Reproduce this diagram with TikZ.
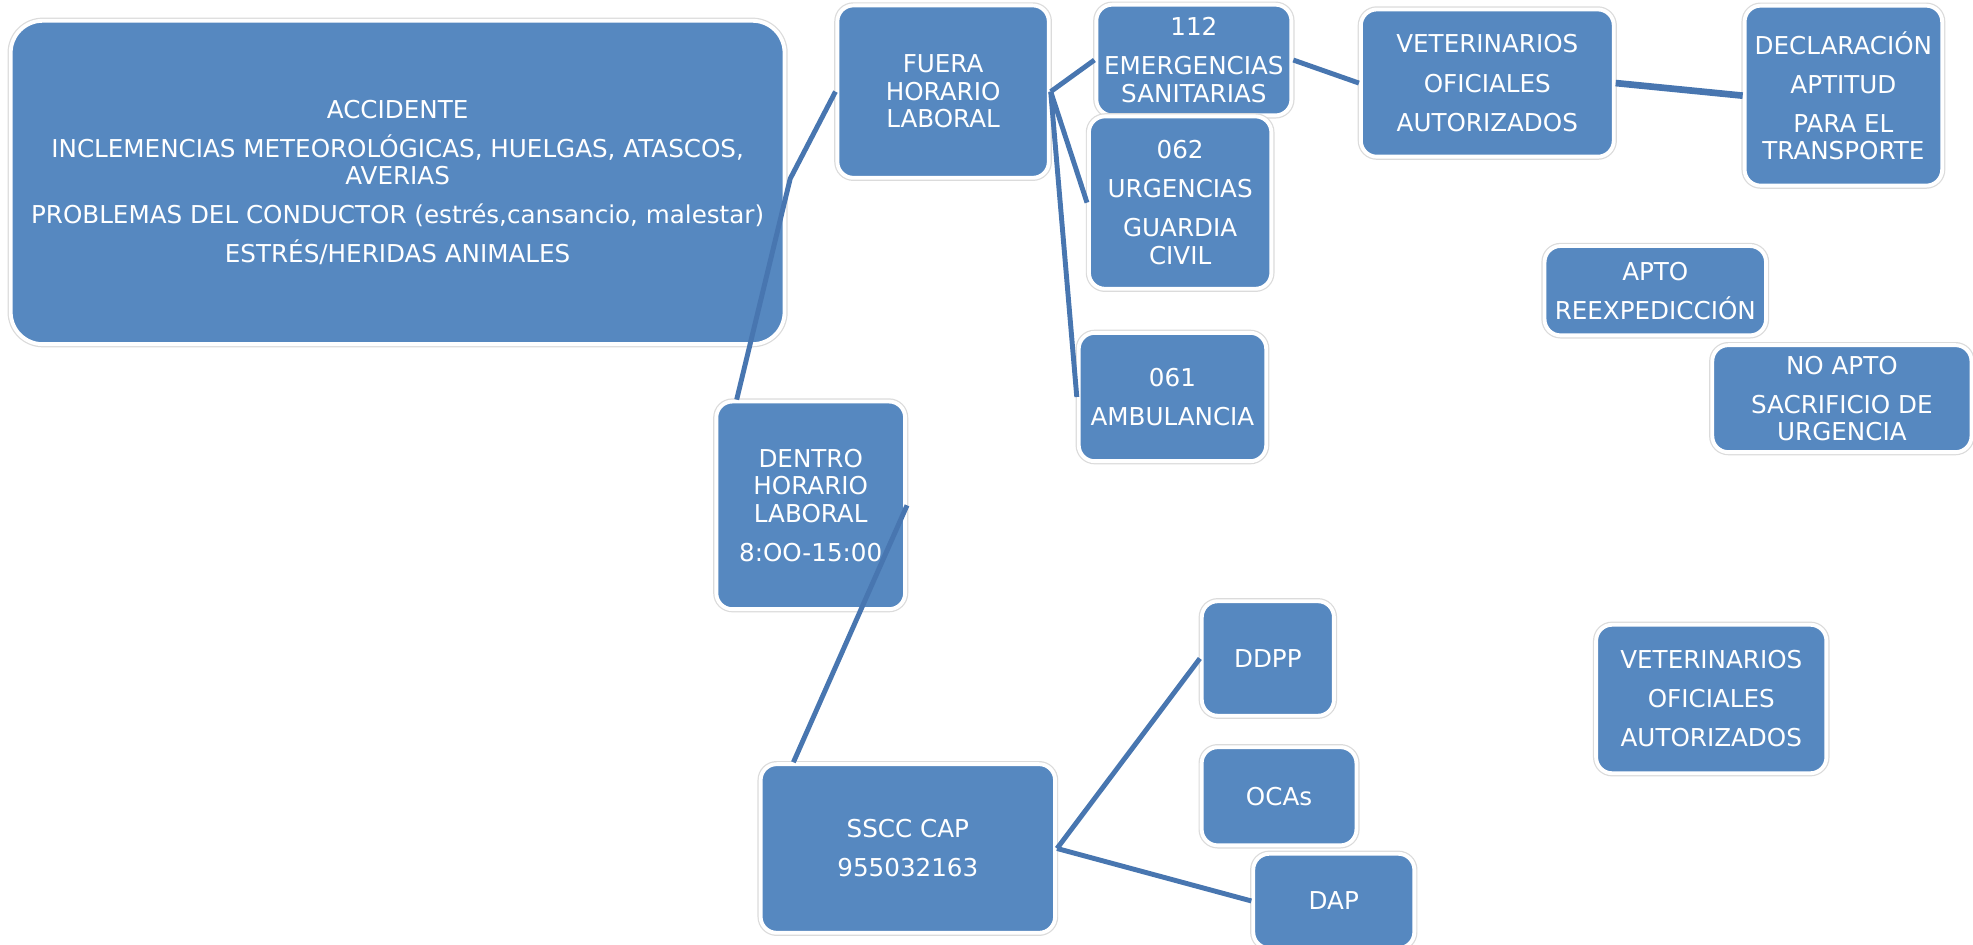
\documentclass[tikz,border=0pt]{standalone}
\usepackage{fontspec}
\setmainfont{DejaVu Sans}
\usepackage{tikz}
\newcommand{\pxu}{0.1258mm}
\definecolor{boxblue}{RGB}{86,136,192}
\definecolor{linkblue}{RGB}{72,118,176}
\tikzset{box/.style={rectangle, rounded corners=1.6mm, fill=boxblue, draw=white,
                     line width=1.1pt, text=white, align=center, inner sep=0pt,
                     font=\fontsize{7}{7.8}\selectfont,
                     preaction={draw=black!14, line width=1.8pt}},
         boxsize/.style 2 args={minimum width=#1*\pxu, minimum height=#2*\pxu},
         link/.style={draw=linkblue, line width=1.4pt}}

\begin{document}
\begin{tikzpicture}[x=0.1258mm, y=-0.1258mm]
            \useasboundingbox (0,0) rectangle (1568,751);
            \node[box, boxsize={615}{257}, rounded corners=3.2mm] (acc) at (316,145)
                {ACCIDENTE\\[3.3pt]
                 INCLEMENCIAS METEOROLÓGICAS, HUELGAS, ATASCOS,\\ AVERIAS\\[3.3pt]
                 PROBLEMAS DEL CONDUCTOR (estrés,cansancio, malestar)\\[3.3pt]
                 ESTRÉS/HERIDAS ANIMALES};
            \node[box, boxsize={168}{137}] (fuera) at (749.5,72.8) {FUERA\\ HORARIO\\ LABORAL};
            \node[box, boxsize={155}{88}] (e112) at (948.8,47.7) {112\\[3.3pt] EMERGENCIAS\\ SANITARIAS};
            \node[box, boxsize={145}{137}] (e062) at (937.9,161) {062\\[3.3pt] URGENCIAS\\[3.3pt] GUARDIA\\ CIVIL};
            \node[box, boxsize={149}{102}] (e061) at (931.8,315.5) {061\\[3.3pt] AMBULANCIA};
            \node[box, boxsize={201}{117}] (vetA) at (1182,66) {VETERINARIOS\\[3.3pt] OFICIALES\\[3.3pt] AUTORIZADOS};
            \node[box, boxsize={157}{143}] (decl) at (1465,76) {DECLARACIÓN\\[3.3pt] APTITUD\\[3.3pt] PARA EL\\ TRANSPORTE};
            \node[box, boxsize={176}{71}] (apto) at (1315.5,231) {APTO\\[3.3pt] REEXPEDICCIÓN};
            \node[box, boxsize={206}{85}] (noapto) at (1463.8,316.8) {NO APTO\\[3.3pt] SACRIFICIO DE\\ URGENCIA};
            \node[box, boxsize={150}{165}] (dentro) at (644.3,401.6) {DENTRO\\ HORARIO\\ LABORAL\\[3.3pt] 8:OO-15:00};
            \node[box, boxsize={234}{134}] (sscc) at (721.5,674.3) {SSCC CAP\\[3.3pt] 955032163};
            \node[box, boxsize={105}{91}] (ddpp) at (1007.6,523.3) {DDPP};
            \node[box, boxsize={123}{78}] (ocas) at (1016.5,632.8) {OCAs};
            \node[box, boxsize={128}{75}] (dap) at (1060,716) {DAP};
            \node[box, boxsize={183}{118}] (vetB) at (1360,555.5) {VETERINARIOS\\[3.3pt] OFICIALES\\[3.3pt] AUTORIZADOS};
            % connectors
            \coordinate (bend) at (628,142);
            \draw[link] (fuera.west) -- (bend) -- (dentro.125);
            \draw[link] (fuera.east) -- (e112.west);
            \draw[link] (fuera.east) -- (e062.west);
            \draw[link] (fuera.east) -- (e061.west);
            \draw[link] (e112.east) -- (vetA.west);
            \draw[link, line width=1.9pt] (vetA.east) -- (decl.west);
            \draw[link] (dentro.east) -- (sscc.143);
            \draw[link] (sscc.east) -- (ddpp.west);
            \draw[link] (sscc.east) -- (dap.west);
        \end{tikzpicture}
\end{document}
